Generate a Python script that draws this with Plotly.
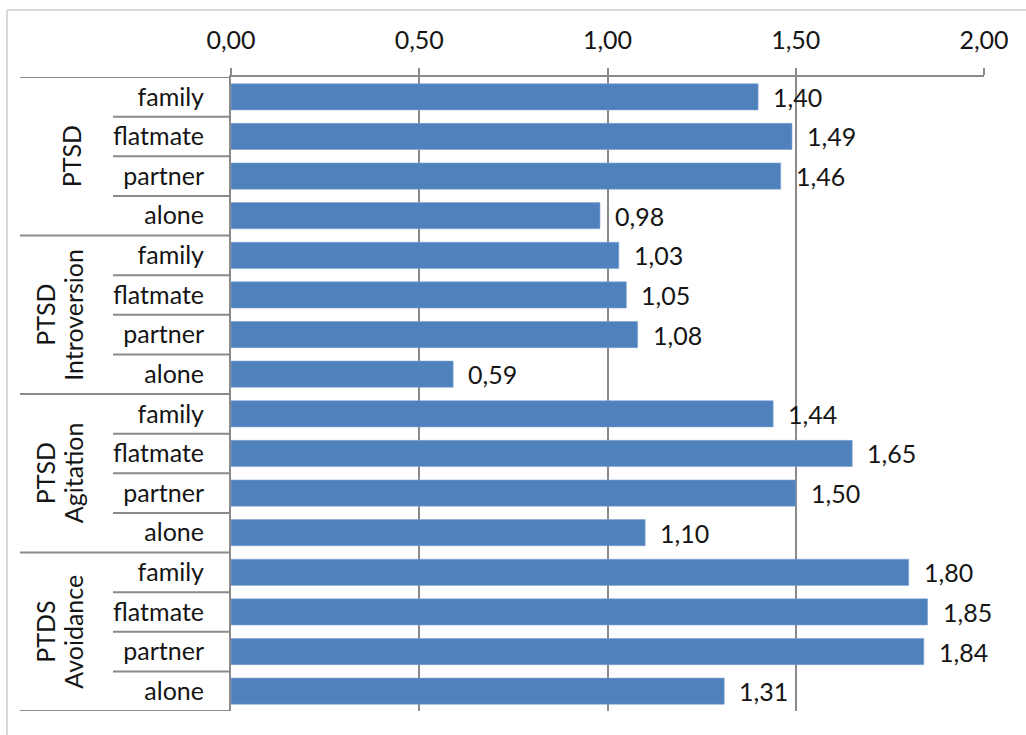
import plotly.graph_objects as go

# Groups (outer category level) and living situations (inner level)
groups = ["PTSD", "PTSD<br>Introversion", "PTSD<br>Agitation", "PTDS<br>Avoidance"]
living = ["family", "flatmate", "partner", "alone"]

ptsd = [1.40, 1.49, 1.46, 0.98]
ptsd_introversion = [1.03, 1.05, 1.08, 0.59]
ptsd_agitation = [1.44, 1.65, 1.50, 1.10]
ptds_avoidance = [1.80, 1.85, 1.84, 1.31]

x_ticks = [0.0, 0.5, 1.0, 1.5, 2.0]

series = [ptsd, ptsd_introversion, ptsd_agitation, ptds_avoidance]
values = [v for s in series for v in s]
rows = list(range(len(values)))
row_labels = [lab for _ in groups for lab in living]

FONT = "Lato"
FS = 25
TEXT = "#151515"
GRID = "#8a8a8a"
BAR = "#4F81BD"

fig = go.Figure()
fig.add_trace(go.Bar(
    x=values, y=rows, orientation="h",
    width=0.66,
    marker=dict(color=BAR, line=dict(color="#7fa3d3", width=0.6)),
    hoverinfo="x+text", text=row_labels, textposition="none",
))

# value labels to the right of each bar
for r, v in zip(rows, values):
    fig.add_annotation(
        x=v, y=r, xref="x", yref="y",
        text=f"{v:.2f}".replace(".", ","),
        showarrow=False, xanchor="left", xshift=13,
        font=dict(family=FONT, size=FS, color=TEXT),
    )

# category table lines on the left
L_PX = 231
PLOT_W = 753
def px_to_paper(px):
    return (px - L_PX) / PLOT_W

n_per = len(living)
shapes = []
for g in range(len(groups) + 1):
    yb = g * n_per - 0.5
    shapes.append(dict(type="line", xref="paper", yref="y",
                       x0=px_to_paper(20), x1=0, y0=yb, y1=yb,
                       line=dict(color=GRID, width=2)))
for g in range(len(groups)):
    for k in range(1, n_per):
        yb = g * n_per + k - 0.5
        shapes.append(dict(type="line", xref="paper", yref="y",
                           x0=px_to_paper(113), x1=0, y0=yb, y1=yb,
                           line=dict(color=GRID, width=2)))

# chart frame (left and top edges)
shapes.append(dict(type="line", xref="paper", yref="paper",
                   x0=px_to_paper(7), x1=px_to_paper(7), y0=-0.1, y1=1 + 67 / 634,
                   line=dict(color="#d9d9d9", width=2)))
shapes.append(dict(type="line", xref="paper", yref="paper",
                   x0=px_to_paper(7), x1=1.2, y0=1 + 67 / 634, y1=1 + 67 / 634,
                   line=dict(color="#d9d9d9", width=2)))

# rotated group labels, one annotation per text line
for g, name in enumerate(groups):
    lines = name.split("<br>")
    xs = [71] if len(lines) == 1 else [45, 73]
    for line_text, cx in zip(lines, xs):
        fig.add_annotation(
            x=px_to_paper(cx), y=g * n_per + (n_per - 1) / 2,
            xref="paper", yref="y", text=line_text, textangle=-90,
            showarrow=False, xanchor="center", yanchor="middle",
            font=dict(family=FONT, size=FS, color=TEXT),
        )

fig.update_layout(
    width=1026, height=735, autosize=False,
    margin=dict(l=231, r=42, t=77, b=24),
    paper_bgcolor="white", plot_bgcolor="white",
    separators=",.",
    showlegend=False,
    shapes=shapes,
    font=dict(family=FONT, size=FS, color=TEXT),
    xaxis=dict(
        side="top", range=[0, 2.0], tickvals=x_ticks, tickformat=".2f",
        showgrid=True, gridcolor=GRID, gridwidth=2,
        showline=True, linecolor=GRID, linewidth=2,
        ticks="outside", ticklen=7, tickcolor=GRID, tickwidth=2,
        ticklabelstandoff=9,
        zeroline=False, fixedrange=True,
    ),
    yaxis=dict(
        range=[len(values) - 0.5, -0.5], tickvals=rows, ticktext=row_labels,
        showgrid=False, zeroline=False,
        showline=True, linecolor=GRID, linewidth=2,
        ticks="", ticklabelstandoff=20, fixedrange=True,
    ),
)

fig.write_html("out.html")
